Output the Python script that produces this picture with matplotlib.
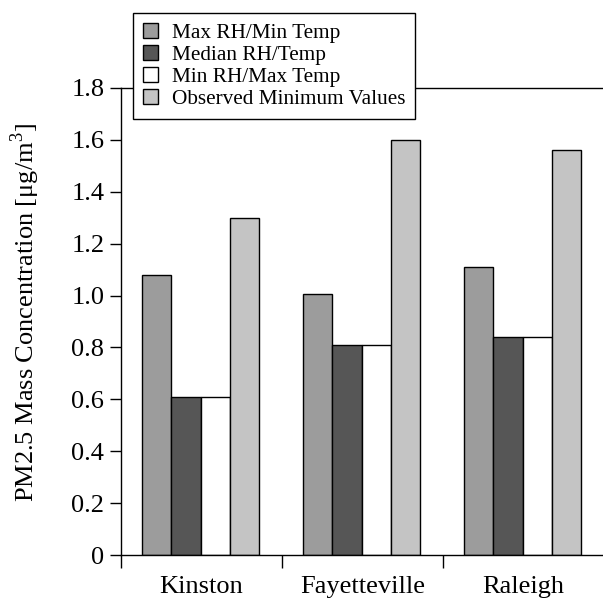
import matplotlib
matplotlib.use("Agg")
import matplotlib.pyplot as plt
import numpy as np

sites = ["Kinston", "Fayetteville", "Raleigh"]
series = ["Max RH/Min Temp", "Median RH/Temp", "Min RH/Max Temp", "Observed Minimum Values"]
max_rh = [1.08, 1.005, 1.11]
median_rh = [0.61, 0.81, 0.84]
min_rh = [0.61, 0.81, 0.84]
observed_min = [1.30, 1.60, 1.56]
colors = ["#9c9c9c", "#565656", "#ffffff", "#c4c4c4"]
yticks = [0, 0.2, 0.4, 0.6, 0.8, 1.0, 1.2, 1.4, 1.6, 1.8]
ytick_labels = ["0", "0.2", "0.4", "0.6", "0.8", "1.0", "1.2", "1.4", "1.6", "1.8"]

plt.rcParams["font.family"] = ["Liberation Serif", "DejaVu Serif"]
plt.rcParams["mathtext.fontset"] = "custom"
plt.rcParams["mathtext.rm"] = "Liberation Serif"

fig = plt.figure(figsize=(6.03, 5.99), dpi=100)
ax = fig.add_axes([121 / 603, 44 / 599, 483 / 603, 467 / 599])

x = np.arange(len(sites))
w = 0.182
vals = [max_rh, median_rh, min_rh, observed_min]
handles = []
for i, (v, c, lab) in enumerate(zip(vals, colors, series)):
    b = ax.bar(x + (i - 1.5) * w - 0.006, v, w, color=c, edgecolor="black",
               linewidth=1.0, label=lab)
    handles.append(b)

ax.set_xlim(-0.5, 2.5)
ax.set_ylim(0, 1.8)
ax.set_yticks(yticks)
ax.set_yticklabels(ytick_labels, fontsize=19)
ax.tick_params(axis="y", direction="out", length=8, width=1, pad=4)
ax.set_xticks(x)
ax.set_xticklabels(sites, fontsize=19)
ax.set_xticks([-0.5, 0.5, 1.5], minor=True)
ax.tick_params(axis="x", which="major", length=0, pad=15)
ax.tick_params(axis="x", which="minor", direction="out", length=9, width=1)
ax.spines["right"].set_visible(False)
for s in ["left", "top", "bottom"]:
    ax.spines[s].set_linewidth(1.0)

ax.set_ylabel(r"PM2.5 Mass Concentration [μg/m$^{\mathregular{3}}$]", fontsize=19)
ax.yaxis.set_label_coords(-0.163, 0.52)

leg = fig.legend(handles=handles, loc="upper left",
                 bbox_to_anchor=(133 / 603, 1 - 13 / 599), fontsize=15.3,
                 frameon=True, fancybox=False, framealpha=1, edgecolor="black",
                 handlelength=0.72, handleheight=0.72, handletextpad=0.65,
                 labelspacing=0.1, borderpad=0.45, borderaxespad=0)
leg.get_frame().set_linewidth(1.0)

fig.savefig("out.png", dpi=100)
